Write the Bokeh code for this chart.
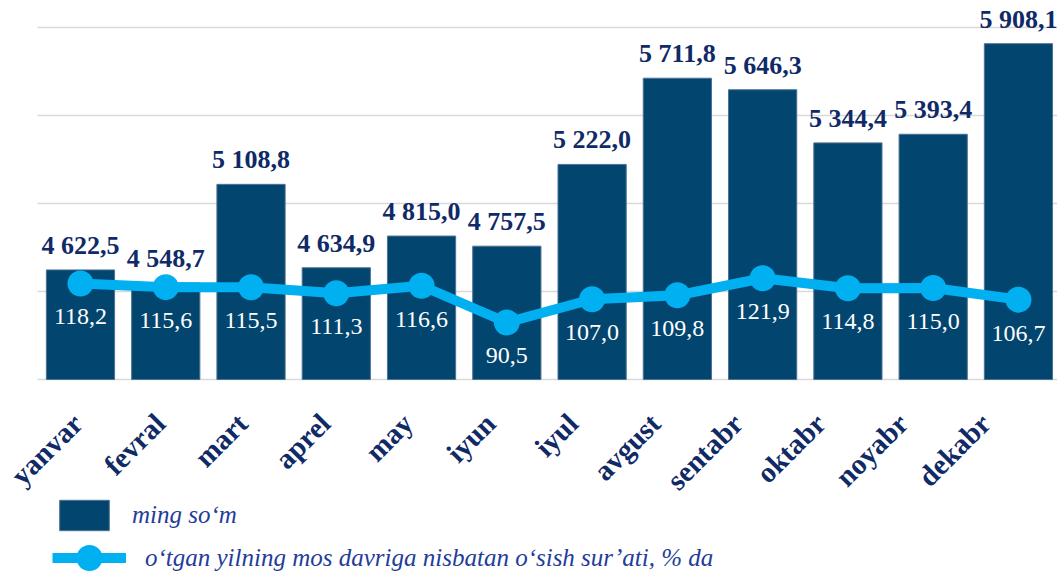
from math import pi
from bokeh.plotting import figure
from bokeh.models import (ColumnDataSource, Range1d, LabelSet, Legend, LegendItem)
from bokeh.core.properties import value
from bokeh.embed import file_html
from bokeh.resources import INLINE

months = ["yanvar", "fevral", "mart", "aprel", "may", "iyun", "iyul",
          "avgust", "sentabr", "oktabr", "noyabr", "dekabr"]
amount = [4622.5, 4548.7, 5108.8, 4634.9, 4815.0, 4757.5, 5222.0,
          5711.8, 5646.3, 5344.4, 5393.4, 5908.1]
growth = [118.2, 115.6, 115.5, 111.3, 116.6, 90.5, 107.0,
          109.8, 121.9, 114.8, 115.0, 106.7]
bar_name = "ming so\u2018m"
line_name = "o\u2018tgan yilning mos davriga nisbatan o\u2018sish sur\u2019ati, % da"
grid_ticks = [4000, 4500, 5000, 5500, 6000]
BASE = 4000

def fmt_thousands(v):
    s = f"{v:,.1f}"
    return s.replace(",", " ").replace(".", ",")

def fmt_pct(v):
    return f"{v:.1f}".replace(".", ",")

idx = list(range(len(months)))
src = ColumnDataSource(dict(
    x=idx, amount=amount, growth=growth, month=months,
    base=[BASE] * len(months),
    amount_lbl=[fmt_thousands(v) for v in amount],
    growth_lbl=[fmt_pct(v) for v in growth],
))

NAVY = "#02456F"
TEXT_NAVY = "#0F2A66"
CYAN = "#00B0F0"
LEGEND_BLUE = "#1F3D99"
FONT = "Liberation Serif"

# plot-area extent in category units (gridlines start at the plot-area edge)
AREA_X0, AREA_X1 = -0.504, 11.458

p = figure(width=1057, height=573, output_backend="svg", toolbar_location=None,
           x_range=Range1d(-0.938, AREA_X1), y_range=Range1d(2897.7, 6153.4),
           min_border_left=0, min_border_right=0, min_border_top=0,
           min_border_bottom=0)
p.outline_line_color = None
p.extra_y_ranges = {"pct": Range1d(-87.8, 319.2)}
# category-label scale (the source spaces its rotated labels slightly tighter)
p.extra_x_ranges = {"lbl": Range1d(-0.933, 11.872)}

p.xaxis.visible = False
p.yaxis.visible = False
p.xgrid.grid_line_color = None
p.ygrid.grid_line_color = None

grid_src = ColumnDataSource(dict(y=grid_ticks,
                                 x0=[AREA_X0] * len(grid_ticks),
                                 x1=[AREA_X1] * len(grid_ticks)))
p.segment(x0="x0", x1="x1", y0="y", y1="y", source=grid_src,
          line_color="#D9D9D9", line_width=1.5)

bars = p.vbar(x="x", top="amount", bottom="base", width=0.8, source=src,
              fill_color=NAVY, line_color="#4D7395", line_width=1)
line = p.line(x="x", y="growth", source=src, y_range_name="pct",
              line_color=CYAN, line_width=10, line_join="round")
dots = p.scatter(x="x", y="growth", source=src, y_range_name="pct",
                 size=26, fill_color=CYAN, line_color=None)

top_labels = LabelSet(x="x", y="amount", text="amount_lbl", source=src,
                      text_align="center", text_baseline="alphabetic",
                      y_offset=16, text_font=value(FONT),
                      text_font_style="bold", text_font_size="26px",
                      text_color=TEXT_NAVY)
pct_labels = LabelSet(x="x", y="growth", text="growth_lbl", source=src,
                      y_range_name="pct", text_align="center",
                      text_baseline="alphabetic", y_offset=-41,
                      text_font=value(FONT), text_font_size="24px",
                      text_color="white")
month_labels = LabelSet(x="x", y="base", text="month", source=src,
                        x_range_name="lbl",
                        angle=pi / 4, text_align="right",
                        text_baseline="middle", x_offset=0, y_offset=-39,
                        text_font=value(FONT), text_font_style="bold",
                        text_font_size="29px", text_color=TEXT_NAVY)
p.add_layout(top_labels)
p.add_layout(pct_labels)
p.add_layout(month_labels)

legend_style = dict(orientation="vertical", padding=0, margin=0,
                    label_text_font=FONT, label_text_font_style="italic",
                    label_text_font_size="25px", label_text_color=LEGEND_BLUE,
                    border_line_color=None, background_fill_alpha=0)
legend_bar = Legend(items=[LegendItem(label=bar_name, renderers=[bars])],
                    location=(53, 39), glyph_width=62, glyph_height=38,
                    label_standoff=17, **legend_style)
legend_line = Legend(items=[LegendItem(label=line_name, renderers=[line, dots])],
                     location=(52, -17), glyph_width=74, glyph_height=65,
                     label_standoff=19, **legend_style)
p.add_layout(legend_bar, "center")
p.add_layout(legend_line, "center")

open("out.html", "w").write(file_html(p, INLINE))
